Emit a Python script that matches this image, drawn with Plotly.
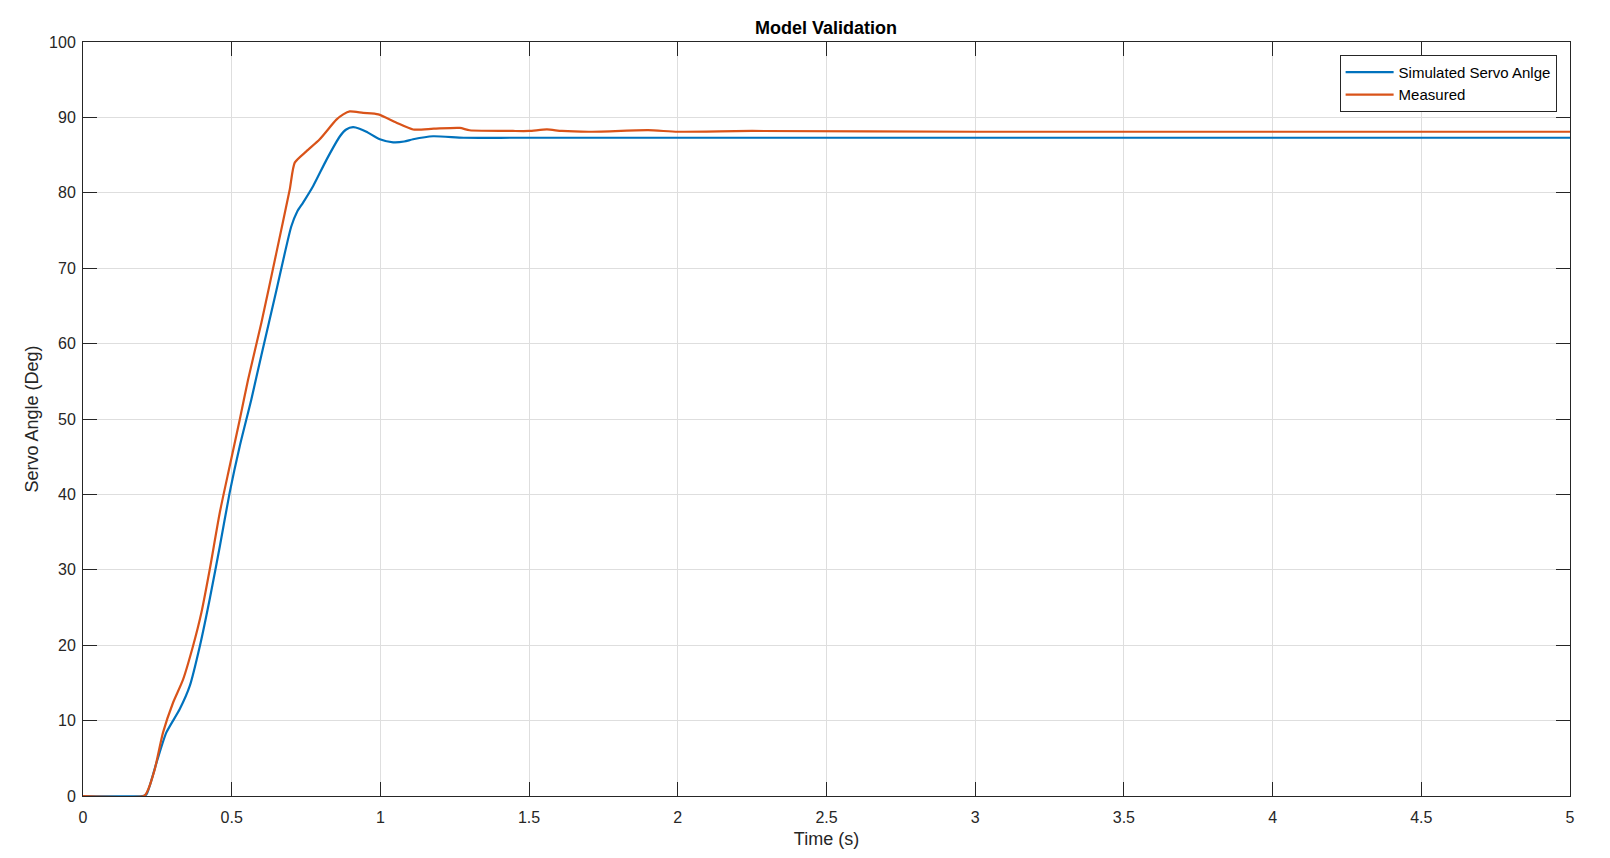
import plotly.graph_objects as go

# Simulated servo angle (blue)
sim_t = [0.0, 0.20, 0.213, 0.247, 0.28, 0.325, 0.359, 0.393, 0.426, 0.46, 0.493, 0.527, 0.566, 0.6, 0.65,
         0.7, 0.72, 0.74, 0.774, 0.819, 0.864, 0.885, 0.908, 0.93, 0.953, 0.998, 1.043, 1.08, 1.11, 1.177,
         1.28, 1.45, 1.7, 2.0, 3.0, 4.0, 5.0]
sim_y = [0.0, 0.0, 0.2, 4.4, 8.4, 11.5, 14.6, 19.9, 26.1, 33.1, 40.2, 46.4, 52.6, 58.5, 67.0,
         75.5, 77.5, 78.7, 80.9, 84.4, 87.5, 88.4, 88.7, 88.5, 88.1, 87.1, 86.7, 86.8, 87.1, 87.5,
         87.3, 87.3, 87.3, 87.3, 87.3, 87.3, 87.3]

# Measured servo angle (orange)
meas_t = [0.0, 0.205, 0.215, 0.241, 0.269, 0.303, 0.336, 0.37, 0.398, 0.426, 0.46, 0.493, 0.527, 0.555,
          0.6, 0.65, 0.695, 0.712, 0.751, 0.796, 0.852, 0.875, 0.897, 0.942, 0.993, 1.054, 1.11, 1.18,
          1.267, 1.30, 1.446, 1.5, 1.56, 1.61, 1.7, 1.9, 2.0, 2.25, 3.0, 4.0, 5.0]
meas_y = [0.0, 0.0, 0.5, 3.5, 8.4, 12.4, 15.4, 19.9, 24.3, 30.0, 37.6, 43.7, 49.9, 55.2,
          62.8, 72.0, 80.4, 84.0, 85.5, 87.1, 89.7, 90.4, 90.8, 90.6, 90.4, 89.3, 88.4, 88.5,
          88.6, 88.3, 88.2, 88.2, 88.4, 88.2, 88.1, 88.3, 88.1, 88.2, 88.1, 88.1, 88.1]

x_ticks = [0, 0.5, 1, 1.5, 2, 2.5, 3, 3.5, 4, 4.5, 5]
x_tick_text = ["0", "0.5", "1", "1.5", "2", "2.5", "3", "3.5", "4", "4.5", "5"]
y_ticks = [0, 10, 20, 30, 40, 50, 60, 70, 80, 90, 100]

FONT = "Liberation Sans, Arial, Helvetica, sans-serif"
AX = "#262626"
GRID = "#dedede"

fig = go.Figure()
fig.add_trace(go.Scatter(x=sim_t, y=sim_y, mode="lines", name="Simulated Servo Anlge",
                         line=dict(color="#0072BD", width=2.2, shape="spline", smoothing=0.6)))
fig.add_trace(go.Scatter(x=meas_t, y=meas_y, mode="lines", name="Measured",
                         line=dict(color="#D95319", width=2.2, shape="spline", smoothing=0.6)))

axis_common = dict(showline=True, linecolor=AX, linewidth=1, mirror="ticks",
                   ticks="inside", ticklen=14, tickwidth=1, tickcolor=AX,
                   showgrid=True, gridcolor=GRID, gridwidth=1, zeroline=False,
                   tickfont=dict(family=FONT, size=16, color=AX))

fig.update_layout(
    width=1610, height=858,
    margin=dict(l=83, r=40, t=42, b=62),
    paper_bgcolor="white", plot_bgcolor="white",
    font=dict(family=FONT, color=AX),
    title=dict(text="<b>Model Validation</b>", x=0.513, xanchor="center",
               y=1 - 28 / 858, yanchor="middle", font=dict(family=FONT, size=18, color="black")),
    xaxis=dict(range=[0, 5], tickvals=x_ticks, ticktext=x_tick_text, ticklabelstandoff=7,
               title=dict(text="Time (s)", font=dict(family=FONT, size=18, color=AX), standoff=7),
               **axis_common),
    yaxis=dict(range=[0, 100], tickvals=y_ticks, ticklabelstandoff=3,
               title=dict(text="Servo Angle (Deg)", font=dict(family=FONT, size=18, color=AX), standoff=5),
               **axis_common),
    legend=dict(x=0.991, xanchor="right", y=0.983, yanchor="top",
                bgcolor="white", bordercolor=AX, borderwidth=1,
                font=dict(family=FONT, size=15, color="black"),
                tracegroupgap=0, itemwidth=48),
    showlegend=True,
)

fig.write_html("out.html")
